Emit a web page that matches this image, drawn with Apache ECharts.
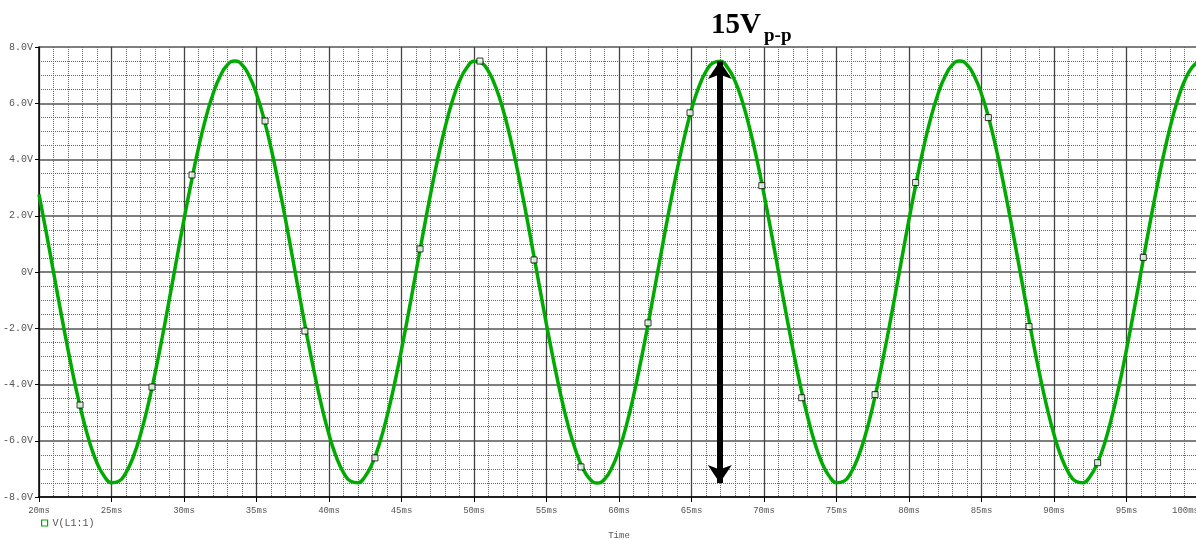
<!DOCTYPE html>
<html>
<head>
<meta charset="utf-8">
<script src="https://cdn.jsdelivr.net/npm/echarts@6/dist/echarts.min.js"></script>
<style>
  html, body { margin: 0; padding: 0; background: #fff; }
  #chart { width: 1196px; height: 540px; }
</style>
</head>
<body>
<div id="chart"></div>
<script>
// Transient voltage V(L1:1), sampled every 0.5 ms from 20 ms to 100 ms
const timeStart = 20;
const timeStep = 0.5;
const voltage = [
  2.76, 1.41, 0, -1.41, -2.76, -4.02, -5.13, -6.07, -6.79, -7.26,
  -7.49, -7.44, -7.13, -6.57, -5.78, -4.78, -3.61, -2.32, -0.94, 0.47,
  1.87, 3.19, 4.41, 5.47, 6.33, 6.97, 7.37, 7.50, 7.37, 6.97,
  6.33, 5.47, 4.41, 3.19, 1.87, 0.47, -0.94, -2.32, -3.61, -4.78,
  -5.78, -6.57, -7.13, -7.44, -7.49, -7.26, -6.79, -6.07, -5.13, -4.02,
  -2.76, -1.41, 0, 1.41, 2.76, 4.02, 5.13, 6.07, 6.79, 7.26,
  7.49, 7.44, 7.13, 6.57, 5.78, 4.78, 3.61, 2.32, 0.94, -0.47,
  -1.87, -3.19, -4.41, -5.47, -6.33, -6.97, -7.37, -7.50, -7.37, -6.97,
  -6.33, -5.47, -4.41, -3.19, -1.87, -0.47, 0.94, 2.32, 3.61, 4.78,
  5.78, 6.57, 7.13, 7.44, 7.49, 7.26, 6.79, 6.07, 5.13, 4.02,
  2.76, 1.41, 0, -1.41, -2.76, -4.02, -5.13, -6.07, -6.79, -7.26,
  -7.49, -7.44, -7.13, -6.57, -5.78, -4.78, -3.61, -2.32, -0.94, 0.47,
  1.87, 3.19, 4.41, 5.47, 6.33, 6.97, 7.37, 7.50, 7.37, 6.97,
  6.33, 5.47, 4.41, 3.19, 1.87, 0.47, -0.94, -2.32, -3.61, -4.78,
  -5.78, -6.57, -7.13, -7.44, -7.49, -7.26, -6.79, -6.07, -5.13, -4.02,
  -2.76, -1.41, 0, 1.41, 2.76, 4.02, 5.13, 6.07, 6.79, 7.26,
  7.49
];

// Trace markers (time in ms, voltage in V)
const markerTimes = [22.83, 27.79, 30.55, 35.59, 38.34, 43.17, 46.28, 50.41, 54.14, 57.38,
                     62.0, 64.9, 69.85, 72.6, 77.66, 80.46, 85.47, 88.28, 93.01, 96.16];
const markerValues = [-4.73, -4.09, 3.45, 5.37, -2.10, -6.61, 0.82, 7.50, 0.43, -6.93,
                      -1.81, 5.66, 3.07, -4.47, -4.36, 3.18, 5.49, -1.94, -6.78, 0.52];

// Peak-to-peak span annotation
const spanTime = 66.95;
const spanTop = 7.5;
const spanBottom = -7.5;
const spanLabel = '15V';
const spanSub = 'p-p';

const seriesName = 'V(L1:1)';
const traceGreen = '#00aa00';

const linePoints = voltage.map((v, i) => [timeStart + i * timeStep, v]);
const markerPoints = markerTimes.map((t, i) => [t, markerValues[i]]);

const chart = echarts.init(document.getElementById('chart'), null, { renderer: 'canvas' });

const monoFont = '"Liberation Mono", "DejaVu Sans Mono", monospace';

chart.setOption({
  animation: false,
  backgroundColor: '#ffffff',
  grid: { left: 39, top: 47, width: 1160, height: 450, containLabel: false, outerBoundsMode: 'none' },
  legend: {
    left: 36, top: 513,
    itemWidth: 6, itemHeight: 6, itemGap: 5,
    textStyle: { fontFamily: monoFont, fontSize: 10, color: '#555' },
    data: [{ name: seriesName, icon: 'rect', itemStyle: { color: '#ffffff', borderColor: traceGreen, borderWidth: 1.2 } }]
  },
  xAxis: {
    type: 'value', min: 20, max: 100, interval: 5,
    name: 'Time', nameLocation: 'middle', nameGap: 34,
    nameTextStyle: { fontFamily: monoFont, fontSize: 9, color: '#555' },
    axisLine: { show: true, onZero: false, lineStyle: { color: '#000', width: 1.5 } },
    axisTick: { show: true, length: 5, lineStyle: { color: '#000' } },
    axisLabel: { margin: 9, fontFamily: monoFont, fontSize: 9, color: '#555', alignMaxLabel: 'right',
      formatter: v => v + 'ms' },
    splitLine: { show: true, lineStyle: { color: '#444', width: 1.3 } },
    minorTick: { show: false, splitNumber: 5 },
    minorSplitLine: { show: true, lineStyle: { color: '#666', width: 1, type: [1, 1] } }
  },
  yAxis: {
    type: 'value', min: -8, max: 8, interval: 2,
    axisLine: { show: true, onZero: false, lineStyle: { color: '#000', width: 1.5 } },
    axisTick: { show: true, length: 4, lineStyle: { color: '#000' } },
    axisLabel: { margin: 6, fontFamily: monoFont, fontSize: 10, color: '#555',
      formatter: v => (v === 0 ? '0V' : v.toFixed(1) + 'V') },
    splitLine: { show: true, lineStyle: { color: '#555', width: 1.5 } },
    minorTick: { show: false, splitNumber: 4 },
    minorSplitLine: { show: true, lineStyle: { color: '#666', width: 1, type: [1, 1] } }
  },
  series: [
    {
      name: seriesName,
      type: 'line',
      data: linePoints,
      smooth: true,
      showSymbol: false,
      symbol: 'rect',
      itemStyle: { color: traceGreen },
      lineStyle: { color: traceGreen, width: 3.5 },
      z: 3
    },
    {
      name: 'markers',
      type: 'scatter',
      data: markerPoints,
      symbol: 'rect',
      symbolSize: 6,
      itemStyle: { color: '#ffffff', borderColor: '#000', borderWidth: 1 },
      z: 5
    },
    {
      name: 'span',
      type: 'line',
      data: [],
      z: 6,
      markLine: {
        silent: true,
        symbol: ['arrow', 'arrow'],
        symbolSize: [18, 18],
        label: { show: false },
        lineStyle: { color: '#000', width: 6, type: 'solid' },
        data: [[{ coord: [spanTime, spanTop] }, { coord: [spanTime, spanBottom] }]]
      }
    }
  ],
  graphic: [
    {
      type: 'text', left: 711, top: 11,
      style: { text: spanLabel, font: 'bold 29px "Liberation Serif", "DejaVu Serif", serif', fill: '#000' }
    },
    {
      type: 'text', left: 764, top: 27,
      style: { text: spanSub, font: 'bold 19px "Liberation Serif", "DejaVu Serif", serif', fill: '#000' }
    }
  ]
});
</script>
</body>
</html>
